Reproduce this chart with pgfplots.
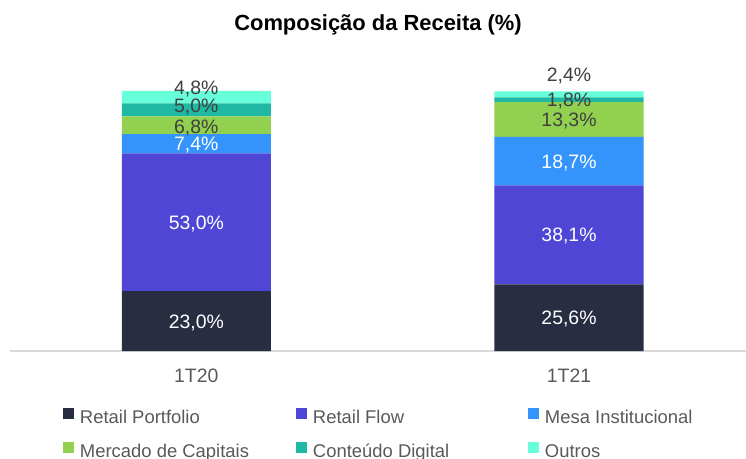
\documentclass[border=0pt]{standalone}
\usepackage{fontspec}
\setmainfont{Liberation Sans}
\usepackage{pgfplots}
\pgfplotsset{compat=1.18}
\usepackage{pgfplotstable}

\definecolor{cPortfolio}{HTML}{282D42}
\definecolor{cFlow}{HTML}{4F46D5}
\definecolor{cMesa}{HTML}{3494FC}
\definecolor{cMercado}{HTML}{92D050}
\definecolor{cConteudo}{HTML}{1FB8A2}
\definecolor{cOutros}{HTML}{66FFD9}
\definecolor{txtdark}{HTML}{404040}
\definecolor{txtgray}{HTML}{595959}
\definecolor{axisgray}{HTML}{D9D9D9}

% composicao da receita, % do total
\pgfplotstableread{
x rp rf mi mc cd ou
0 23.0 53.0 7.4 6.8 5.0 4.8
1 25.6 38.1 18.7 13.3 1.8 2.4
}\receita

\begin{document}
\begin{tikzpicture}
\useasboundingbox (0bp,0bp) rectangle (746bp,459bp);
\node[font=\fontsize{22}{26}\selectfont\bfseries, text=black] at (378bp,434bp) {Composição da Receita (\%)};
\begin{axis}[
    ,at={(10bp,108bp)},anchor=south west
    ,scale only axis,width=736bp,height=260bp
    ,ybar stacked,bar width=0.4
    ,xmin=-0.5,xmax=1.475,ymin=0,ymax=100
    ,axis y line=none,axis x line*=bottom
    ,x axis line style={draw=axisgray,line width=1.2bp}
    ,xtick={0,1},xticklabels={1T20,1T21}
    ,major tick length=0pt
    ,xticklabel style={font=\fontsize{19.5}{23}\selectfont,text=txtgray,yshift=-14bp}
    ,clip=false
    ,legend columns=3
    ,legend cell align=left
    ,legend style={draw=none,fill=none,inner sep=0pt,outer sep=0pt,
        at={(0.072,-0.2192)},anchor=north west,
        nodes={inner sep=0pt,text=txtgray,font=\fontsize{18.5}{22}\selectfont},
        /tikz/every odd column/.append style={column sep=6bp},
        /tikz/row sep=16.5bp}
    ]
\addplot[fill=cPortfolio,draw=none,legend image code/.code={\fill[cPortfolio] (0bp,-1bp) rectangle (11bp,10bp);}] table[x=x,y=rp] {\receita};
\addplot[fill=cFlow,draw=none,legend image code/.code={\fill[cFlow] (0bp,-1bp) rectangle (11bp,10bp);}] table[x=x,y=rf] {\receita};
\addplot[fill=cMesa,draw=none,legend image code/.code={\fill[cMesa] (0bp,-1bp) rectangle (11bp,10bp);}] table[x=x,y=mi] {\receita};
\addplot[fill=cMercado,draw=none,legend image code/.code={\fill[cMercado] (0bp,-1bp) rectangle (11bp,10bp);}] table[x=x,y=mc] {\receita};
\addplot[fill=cConteudo,draw=none,legend image code/.code={\fill[cConteudo] (0bp,-1bp) rectangle (11bp,10bp);}] table[x=x,y=cd] {\receita};
\addplot[fill=cOutros,draw=none,legend image code/.code={\fill[cOutros] (0bp,-1bp) rectangle (11bp,10bp);}] table[x=x,y=ou] {\receita};
\addlegendentry{\makebox[216bp][l]{Retail Portfolio}}
\addlegendentry{\makebox[215bp][l]{Retail Flow}}
\addlegendentry{Mesa Institucional}
\addlegendentry{\makebox[216bp][l]{Mercado de Capitais}}
\addlegendentry{\makebox[215bp][l]{Conteúdo Digital}}
\addlegendentry{Outros}

% posicoes dos rotulos (desenhados depois, por cima das barras)
\coordinate (a1) at (axis cs:0,11.5);
\coordinate (a2) at (axis cs:0,49.5);
\coordinate (a3) at (axis cs:0,79.7);
\coordinate (a4) at (axis cs:0,86.5);
\coordinate (a5) at (axis cs:0,94.6);
\coordinate (a6) at (axis cs:0,101.2);
\coordinate (b1) at (axis cs:1,12.8);
\coordinate (b2) at (axis cs:1,44.65);
\coordinate (b3) at (axis cs:1,73.05);
\coordinate (b4) at (axis cs:1,89.05);
\coordinate (b5) at (axis cs:1,96.6);
\coordinate (b6) at (axis cs:1,106.5);
\end{axis}
\begin{scope}[every node/.style={font=\fontsize{19.5}{23}\selectfont,text=white,yshift=-1.5bp}]
\node at (a1) {23,0\%};
\node at (a2) {53,0\%};
\node at (a3) {7,4\%};
\node at (b1) {25,6\%};
\node at (b2) {38,1\%};
\node at (b3) {18,7\%};
\end{scope}
\begin{scope}[every node/.style={font=\fontsize{19.5}{23}\selectfont,text=txtdark,yshift=-1.5bp}]
\node at (a4) {6,8\%};
\node at (a5) {5,0\%};
\node at (a6) {4,8\%};
\node at (b4) {13,3\%};
\node at (b5) {1,8\%};
\node at (b6) {2,4\%};
\end{scope}
\end{tikzpicture}
\end{document}
